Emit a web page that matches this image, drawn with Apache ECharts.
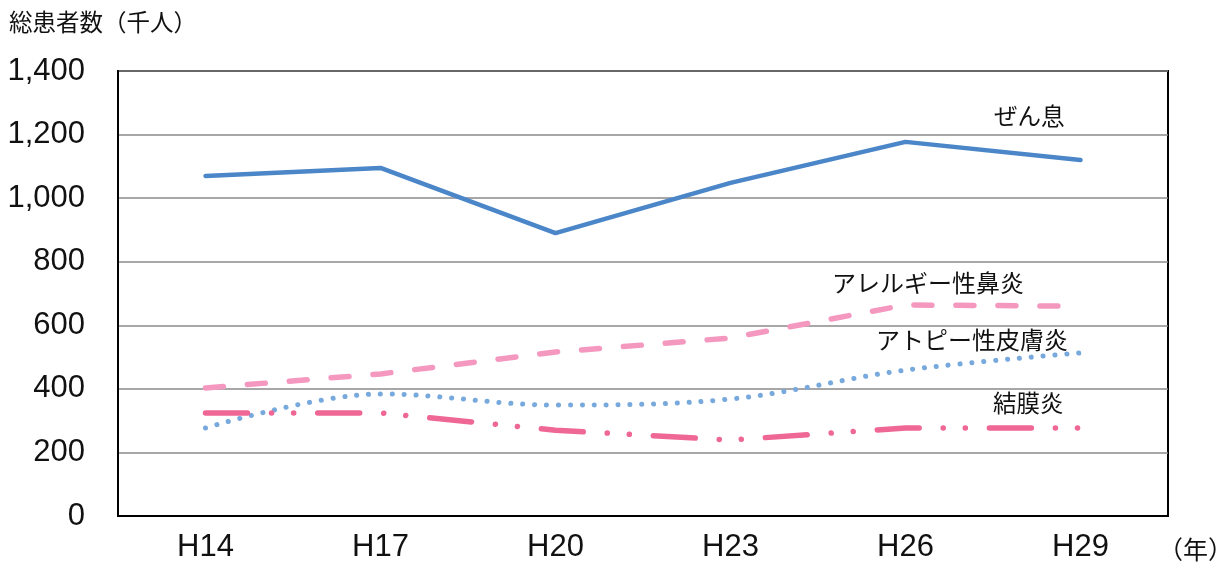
<!DOCTYPE html>
<html>
<head>
<meta charset="utf-8">
<script src="https://cdn.jsdelivr.net/npm/echarts@6/dist/echarts.min.js"></script>
<style>html,body{margin:0;padding:0;background:#fff}#c{width:1231px;height:570px}</style>
</head>
<body>
<div id="c"></div>
<script>
const categories = ['H14', 'H17', 'H20', 'H23', 'H26', 'H29'];
const asthma = [1070, 1095, 890, 1048, 1177, 1120];
const rhinitis = [403, 447, 516, 560, 664, 660];
const atopic = [277, 384, 349, 368, 459, 513];
const conjunctivitis = [324, 324, 270, 239, 277, 277];
const yTicks = [0, 200, 400, 600, 800, 1000, 1200, 1400];

const FONT = '"Noto Sans CJK JP", "Noto Sans", sans-serif';
const NUMFONT = '"Liberation Sans", Arial, sans-serif';
const chart = echarts.init(document.getElementById('c'), null, {renderer: 'canvas'});
chart.setOption({
  animation: false,
  backgroundColor: '#fff',
  grid: {left: 118, right: 63, top: 71, bottom: 54, show: true, borderColor: '#000', borderWidth: 2, backgroundColor: 'transparent', containLabel: false},
  xAxis: {
    type: 'category', data: categories, boundaryGap: true,
    axisLine: {show: true, lineStyle: {color: '#000', width: 2}},
    axisTick: {show: false},
    axisLabel: {color: '#111', fontSize: 31, fontFamily: NUMFONT, margin: 16}
  },
  yAxis: {
    type: 'value', min: yTicks[0], max: yTicks[yTicks.length - 1], interval: 200,
    axisLine: {show: true, lineStyle: {color: '#000', width: 2}},
    axisTick: {show: false},
    splitLine: {lineStyle: {color: '#8a8a8a', width: 1.5}},
    axisLabel: {color: '#111', fontSize: 31, fontFamily: NUMFONT, margin: 33,
      formatter: v => v.toLocaleString('en-US')}
  },
  graphic: [
    {type: 'text', left: 9, top: 10, style: {text: '総患者数（千人）', fontSize: 23.5, fontFamily: FONT, fill: '#111'}},
    {type: 'text', left: 1158, top: 537, style: {text: '（年）', fontSize: 25, fontFamily: FONT, fill: '#111'}},
    {type: 'text', left: 994, top: 104, style: {text: 'ぜん息', fontSize: 23.5, fontFamily: FONT, fill: '#111'}},
    {type: 'text', left: 832, top: 271, style: {text: 'アレルギー性鼻炎', fontSize: 24, fontFamily: FONT, fill: '#111'}},
    {type: 'text', left: 876, top: 328, style: {text: 'アトピー性皮膚炎', fontSize: 24, fontFamily: FONT, fill: '#111'}},
    {type: 'text', left: 993, top: 391, style: {text: '結膜炎', fontSize: 23.5, fontFamily: FONT, fill: '#111'}}
  ],
  series: [
    {name: 'ぜん息', type: 'line', data: asthma, symbol: 'none',
      lineStyle: {color: '#4a86c8', width: 4.5, cap: 'round', join: 'round'}},
    {name: 'アレルギー性鼻炎', type: 'line', data: rhinitis, symbol: 'none',
      lineStyle: {color: '#f598c0', width: 5.5, type: [18, 24], cap: 'round'}},
    {name: 'アトピー性皮膚炎', type: 'line', data: atopic, symbol: 'none', smooth: 0.35,
      lineStyle: {color: '#77a9dc', width: 5, type: [0.1, 11.8], cap: 'round'}},
    {name: '結膜炎', type: 'line', data: conjunctivitis, symbol: 'none',
      lineStyle: {color: '#ef6795', width: 5.5, type: [42, 24, 0.1, 22, 0.1, 24], cap: 'round'}}
  ]
});
</script>
</body>
</html>
